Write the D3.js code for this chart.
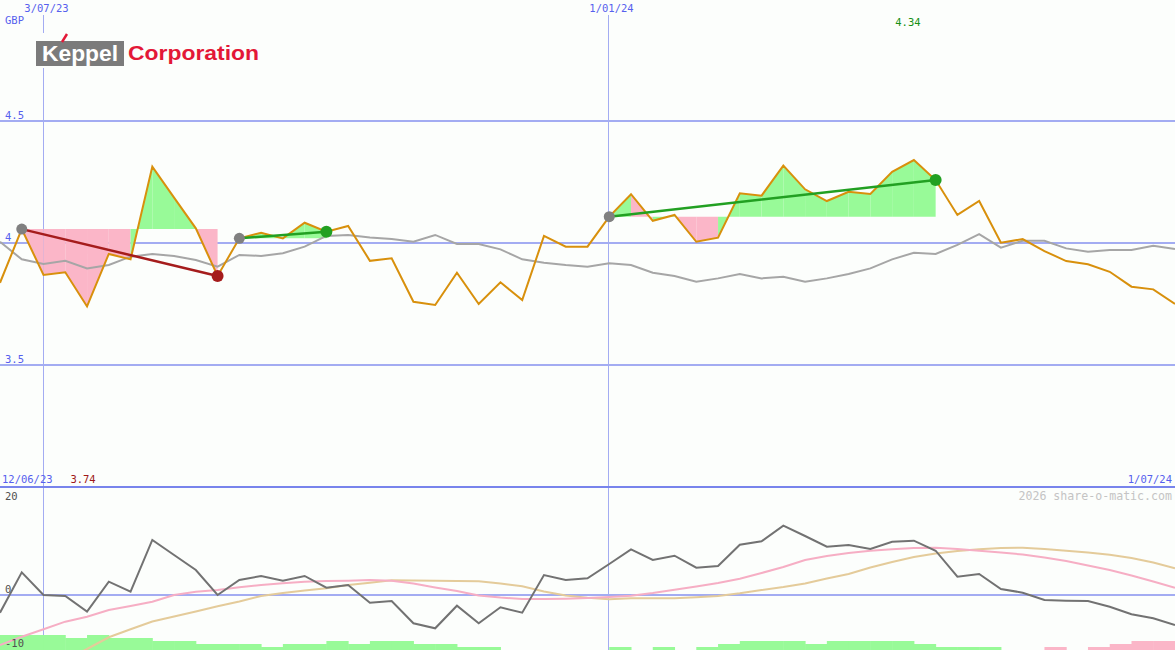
<!DOCTYPE html>
<html>
<head>
<meta charset="utf-8">
<script src="https://cdn.jsdelivr.net/npm/d3@7"></script>
<style>
  body { margin: 0; background: #fcfefc; }
  text { font-family: "DejaVu Sans Mono", monospace; }
</style>
</head>
<body>
<div id="canvas"></div>
<script>
// size of the picture
var w = 1175;
var h = 650;

// weekly closes, Monday 19/06/23 .. Monday 1/07/24
var weeks = d3.timeMonday.range(new Date(2023, 5, 19), new Date(2024, 6, 2));

var price = [3.837, 4.057, 3.869, 3.880, 3.740, 3.955, 3.933, 4.313, 4.186, 4.060,
             3.865, 4.019, 4.042, 4.019, 4.083, 4.046, 4.070, 3.927, 3.937, 3.759,
             3.746, 3.878, 3.750, 3.839, 3.766, 4.029, 3.985, 3.985, 4.108, 4.200,
             4.091, 4.115, 4.005, 4.022, 4.204, 4.194, 4.317, 4.220, 4.172, 4.210,
             4.201, 4.292, 4.340, 4.258, 4.115, 4.172, 4.001, 4.016, 3.967, 3.926,
             3.913, 3.882, 3.821, 3.810, 3.750];

var movingAvg = [4.005, 3.933, 3.914, 3.927, 3.896, 3.910, 3.944, 3.955, 3.947, 3.930,
                 3.903, 3.951, 3.947, 3.958, 3.985, 4.029, 4.033, 4.023, 4.016, 4.005,
                 4.033, 3.996, 3.996, 3.974, 3.933, 3.919, 3.910, 3.903, 3.917, 3.910,
                 3.878, 3.865, 3.841, 3.855, 3.873, 3.855, 3.862, 3.841, 3.855, 3.873,
                 3.896, 3.933, 3.960, 3.955, 3.992, 4.036, 3.981, 4.009, 4.009, 3.978,
                 3.964, 3.971, 3.971, 3.989, 3.975];

// lower panel
var momentum = [-3.28, 4.20, 0, -0.19, -3.09, 2.46, 0.61, 10.19, 7.41, 4.63,
                0, 2.78, 3.52, 2.65, 3.52, 1.35, 1.85, -1.43, -1.11, -5.24,
                -6.17, -1.98, -5.24, -2.28, -3.28, 3.70, 2.78, 3.09, 5.74, 8.46,
                6.48, 7.28, 5.06, 5.37, 9.31, 9.94, 12.83, 10.93, 8.94, 9.26,
                8.52, 9.87, 10.06, 8.20, 3.39, 3.89, 1.11, 0.43, -0.93, -1.06,
                -1.11, -2.17, -3.57, -4.31, -5.56];

var fastAvg = [-9.26, -7.72, -6.35, -4.94, -4.02, -2.78, -2.04, -1.24, 0, 0.61,
               0.93, 1.43, 1.85, 2.17, 2.46, 2.59, 2.65, 2.78, 2.65, 2.13,
               1.39, 0.74, -0.09, -0.46, -0.74, -0.74, -0.69, -0.56, -0.37, -0.13,
               0.37, 0.98, 1.57, 2.22, 3.02, 4.07, 5.19, 6.48, 7.22, 7.78,
               8.20, 8.46, 8.70, 8.74, 8.52, 8.19, 7.87, 7.50, 6.94, 6.30,
               5.46, 4.63, 3.61, 2.50, 1.35];

var slowAvg = [-19.4, -16.7, -14.3, -12.0, -10.0, -7.83, -6.35, -4.91, -3.98, -3.06,
               -2.09, -1.20, -0.19, 0.37, 0.83, 1.26, 1.85, 2.28, 2.75, 2.70,
               2.65, 2.60, 2.55, 2.13, 1.61, 0.65, -0.09, -0.50, -0.80, -0.61,
               -0.61, -0.61, -0.43, -0.19, 0.31, 0.93, 1.48, 2.13, 3.06, 3.89,
               5.09, 6.11, 7.04, 7.69, 8.15, 8.46, 8.70, 8.74, 8.52, 8.19,
               7.87, 7.46, 6.85, 6.02, 4.94];

// histogram steps at the bottom (+ green, - pink)
var histo = [5, 5, 5, 4, 5, 4, 4, 3, 3, 2, 2, 2, 1, 2, 2, 3, 2, 3,
             3, 2, 2, 1, 1, 0, 0, 0, 0, 0, 1, 0, 1, 0, 1, 2, 3, 3,
             3, 2, 3, 3, 3, 3, 2, 1, 1, 1, 0, 0, -1, 0, -1, -2, -3, -3, -3];

// trend segments (week indexes)
var trends = [
  {start: 1, end: 10, up: false},
  {start: 11, end: 15, up: true},
  {start: 28, end: 43, up: true}
];

var priceTicks = [4.5, 4, 3.5];
var lowerTicks = [20, 0, -10];
var dateTicks = [new Date(2023, 6, 3), new Date(2024, 0, 1)];
var firstLabel = "12/06/23";
var fmtDate = d => (d.getDate()) + "/" + d3.timeFormat("%m/%y")(d);
var fs = 10.5;

var svg = d3.select("#canvas")
    .append("svg")
    .attr("width", w)
    .attr("height", h)
    .style("display", "block")
    .style("background-color", "#fcfefc");

var x = d3.scaleTime()
    .domain([new Date(2023, 5, 19), new Date(2024, 6, 1)])
    .range([0, w]);

var y = d3.scaleLinear().domain([3.5, 4.5]).range([365, 121]);
var y2 = d3.scaleLinear().domain([-10, 20]).range([649, 487]);
var barH = d3.scaleLinear().domain([0, 5]).range([0, 15]);

var gridCol = "#a3acf2";
var labelCol = "#5660ee";

// clip for lower panel
svg.append("clipPath").attr("id", "lower")
  .append("rect").attr("x", 0).attr("y", 488).attr("width", w).attr("height", h - 488);

// vertical date lines
dateTicks.forEach(function(d) {
  var xx = Math.round(x(d)) - 0.5;
  svg.append("line")
    .attr("x1", xx).attr("x2", xx).attr("y1", 15).attr("y2", h)
    .attr("stroke", gridCol).attr("stroke-width", 1);
  svg.append("text")
    .attr("x", xx + 3).attr("y", 12)
    .attr("text-anchor", "middle")
    .attr("font-size", fs).attr("fill", labelCol)
    .text(fmtDate(d));
});

// horizontal price grid
priceTicks.forEach(function(t) {
  svg.append("line")
    .attr("x1", 0).attr("x2", w).attr("y1", y(t)).attr("y2", y(t))
    .attr("stroke", gridCol).attr("stroke-width", 2);
  svg.append("text")
    .attr("x", 5).attr("y", y(t) - 2)
    .attr("font-size", fs).attr("fill", labelCol)
    .text(t);
});

svg.append("text").attr("x", 5).attr("y", 24)
  .attr("font-size", fs).attr("fill", labelCol).text("GBP");

// logo
svg.append("rect").attr("x", 34).attr("y", 33).attr("width", 230).attr("height", 35)
  .attr("fill", "#fcfefc");
svg.append("rect").attr("x", 36).attr("y", 41).attr("width", 88).attr("height", 25)
  .attr("fill", "#7b7b7b");
svg.append("text").attr("x", 42).attr("y", 61)
  .attr("textLength", 76).attr("lengthAdjust", "spacingAndGlyphs")
  .style("font-family", "'Liberation Sans', Arial, sans-serif")
  .attr("font-weight", "bold").attr("font-size", 22).attr("fill", "#ffffff")
  .text("Keppel");
svg.append("line").attr("x1", 62).attr("y1", 42).attr("x2", 67).attr("y2", 34)
  .attr("stroke", "#e31837").attr("stroke-width", 2.5);
svg.append("text").attr("x", 128).attr("y", 60)
  .attr("textLength", 131).attr("lengthAdjust", "spacingAndGlyphs")
  .style("font-family", "'Liberation Sans', Arial, sans-serif")
  .attr("font-weight", "bold").attr("font-size", 21).attr("fill", "#e31837")
  .text("Corporation");

// fills between price and the start level of each trend
var fills = [];
trends.forEach(function(t) {
  var base = price[t.start];
  for (var i = t.start; i < t.end; i++) {
    fills.push({
      pts: [[x(weeks[i]), y(base)], [x(weeks[i]), y(price[i])],
            [x(weeks[i + 1]), y(price[i + 1])], [x(weeks[i + 1]), y(base)]],
      above: price[i + 1] >= base
    });
  }
});
svg.append("g").selectAll("polygon")
  .data(fills)
  .join("polygon")
  .attr("points", d => d.pts.map(p => p.join(",")).join(" "))
  .attr("fill", d => d.above ? "#98fa98" : "#fbb6c8");

// moving average
svg.append("path")
  .datum(movingAvg)
  .attr("d", d3.line().x((d, i) => x(weeks[i])).y(d => y(d)))
  .attr("fill", "none").attr("stroke", "#a6a6a6").attr("stroke-width", 2);

// price
svg.append("path")
  .datum(price)
  .attr("d", d3.line().x((d, i) => x(weeks[i])).y(d => y(d)))
  .attr("fill", "none").attr("stroke", "#d8900c").attr("stroke-width", 2);

// trend lines + dots
trends.forEach(function(t) {
  var col = t.up ? "#22a022" : "#a51c1c";
  svg.append("line")
    .attr("x1", x(weeks[t.start])).attr("y1", y(price[t.start]))
    .attr("x2", x(weeks[t.end])).attr("y2", y(price[t.end]))
    .attr("stroke", col).attr("stroke-width", 2.5);
  svg.append("circle")
    .attr("cx", x(weeks[t.start])).attr("cy", y(price[t.start])).attr("r", 5.5)
    .attr("fill", "#808080");
  svg.append("circle")
    .attr("cx", x(weeks[t.end])).attr("cy", y(price[t.end])).attr("r", 6)
    .attr("fill", col);
});

// high / low labels
var hiIdx = d3.maxIndex(price), loIdx = d3.minIndex(price);
svg.append("text").attr("x", x(weeks[hiIdx]) - 6).attr("y", 26)
  .attr("text-anchor", "middle").attr("font-size", fs).attr("fill", "#169016")
  .text(d3.format(".2f")(price[hiIdx]));
svg.append("text").attr("x", x(weeks[loIdx]) - 4).attr("y", 483)
  .attr("text-anchor", "middle").attr("font-size", fs).attr("fill", "#a01818")
  .text(d3.format(".2f")(price[loIdx]));

// lower panel
svg.append("text").attr("x", 2).attr("y", 483)
  .attr("font-size", fs).attr("fill", labelCol).text(firstLabel);
svg.append("text").attr("x", 1172).attr("y", 483).attr("text-anchor", "end")
  .attr("font-size", fs).attr("fill", labelCol).text(fmtDate(weeks[weeks.length - 1]));
svg.append("line").attr("x1", 0).attr("x2", w).attr("y1", 487).attr("y2", 487)
  .attr("stroke", "#7884ec").attr("stroke-width", 2);
svg.append("text").attr("x", 1172).attr("y", 500).attr("text-anchor", "end")
  .attr("font-size", 11.6).attr("fill", "#c4c4c4").text("2026 share-o-matic.com");

svg.append("line").attr("x1", 0).attr("x2", w).attr("y1", y2(0)).attr("y2", y2(0))
  .attr("stroke", gridCol).attr("stroke-width", 2);

var lower = svg.append("g").attr("clip-path", "url(#lower)");

lower.selectAll("rect.histo")
  .data(histo)
  .join("rect")
  .attr("class", "histo")
  .attr("x", (d, i) => x(weeks[i]))
  .attr("width", (d, i) => x(d3.timeWeek.offset(weeks[i], 1)) - x(weeks[i]) + 0.5)
  .attr("y", d => h - barH(Math.abs(d)))
  .attr("height", d => barH(Math.abs(d)))
  .attr("fill", d => d >= 0 ? "#98fa98" : "#fbb6c8");

var lineLow = d3.line().x((d, i) => x(weeks[i])).y(d => y2(d));
lower.append("path").datum(slowAvg).attr("d", lineLow)
  .attr("fill", "none").attr("stroke", "#e4cb9a").attr("stroke-width", 2);
lower.append("path").datum(fastAvg).attr("d", lineLow)
  .attr("fill", "none").attr("stroke", "#f6aec4").attr("stroke-width", 2);
lower.append("path").datum(momentum).attr("d", lineLow)
  .attr("fill", "none").attr("stroke", "#727272").attr("stroke-width", 2);

lowerTicks.forEach(function(t) {
  svg.append("text")
    .attr("x", 5).attr("y", t === 20 ? 500 : y2(t) - 2)
    .attr("font-size", fs).attr("fill", "#505050")
    .text(t);
});
</script>
</body>
</html>
